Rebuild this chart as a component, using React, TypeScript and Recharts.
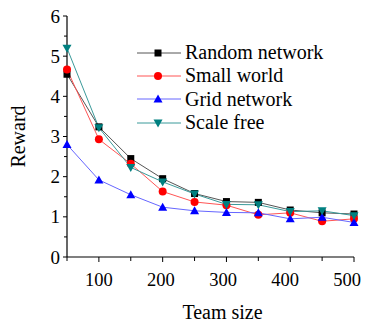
import React from 'react';
import { LineChart, Line, XAxis, YAxis, Legend } from 'recharts';

const teamSizes = [50, 100, 150, 200, 250, 300, 350, 400, 450, 500];
const randomNetwork = [4.55, 3.24, 2.45, 1.95, 1.58, 1.38, 1.36, 1.17, 1.1, 1.07];
const smallWorld = [4.67, 2.93, 2.32, 1.63, 1.37, 1.29, 1.05, 1.1, 0.89, 0.95];
const gridNetwork = [2.8, 1.92, 1.55, 1.24, 1.15, 1.11, 1.1, 0.95, 0.99, 0.86];
const scaleFree = [5.2, 3.22, 2.23, 1.87, 1.57, 1.31, 1.3, 1.13, 1.15, 1.03];

const xTicks = [50, 100, 150, 200, 250, 300, 350, 400, 450, 500];
const xLabelTicks = [100, 200, 300, 400, 500];
const yTicks = [0, 0.5, 1, 1.5, 2, 2.5, 3, 3.5, 4, 4.5, 5, 5.5, 6];
const yLabelTicks = [0, 1, 2, 3, 4, 5, 6];

const data = teamSizes.map((x, i) => ({
  x,
  random: randomNetwork[i],
  small: smallWorld[i],
  grid: gridNetwork[i],
  scale: scaleFree[i],
}));

const FONT = "'Liberation Serif', 'Times New Roman', serif";

type Shape = 'square' | 'circle' | 'up' | 'down';

const series: { key: string; name: string; line: string; fill: string; shape: Shape }[] = [
  { key: 'random', name: 'Random network', line: '#555555', fill: '#000000', shape: 'square' },
  { key: 'small', name: 'Small world', line: '#ff5555', fill: '#ff0000', shape: 'circle' },
  { key: 'grid', name: 'Grid network', line: '#6666ff', fill: '#0000ff', shape: 'up' },
  { key: 'scale', name: 'Scale free', line: '#3a9a9a', fill: '#008080', shape: 'down' },
];

function markerEl(shape: Shape, cx: number, cy: number, fill: string, key?: string) {
  if (shape === 'square') {
    return <rect key={key} x={cx - 3.5} y={cy - 3.5} width={7} height={7} fill={fill} />;
  }
  if (shape === 'circle') {
    return <circle key={key} cx={cx} cy={cy} r={4} fill={fill} />;
  }
  if (shape === 'up') {
    return (
      <polygon
        key={key}
        points={`${cx},${cy - 4.5} ${cx - 4.5},${cy + 3.5} ${cx + 4.5},${cy + 3.5}`}
        fill={fill}
      />
    );
  }
  return (
    <polygon
      key={key}
      points={`${cx - 4.5},${cy - 3.5} ${cx + 4.5},${cy - 3.5} ${cx},${cy + 4.5}`}
      fill={fill}
    />
  );
}

const XTick = (props: any) => {
  const { x, y, payload, index } = props;
  const v = payload.value;
  const major = xLabelTicks.includes(v);
  const labelIdx = xLabelTicks.indexOf(v);
  const shift = labelIdx >= 0 ? -1.7 * labelIdx : 0;
  return (
    <g key={index}>
      <line x1={x} y1={y} x2={x} y2={y + (major ? 5 : 4)} stroke="#000" strokeWidth={1} />
      {major && (
        <text x={x + shift} y={y + 29} textAnchor="middle" style={{ fontFamily: FONT }} fontSize={18.5} fill="#000">
          {v}
        </text>
      )}
    </g>
  );
};

const YTick = (props: any) => {
  const { x, y, payload } = props;
  const v = payload.value;
  const major = yLabelTicks.includes(v);
  return (
    <g>
      <line x1={x} y1={y} x2={x - (major ? 4 : 3)} y2={y} stroke="#000" strokeWidth={1} />
      {major && (
        <text x={x - 7} y={y + 6.5} textAnchor="end" style={{ fontFamily: FONT }} fontSize={19} fill="#000">
          {v}
        </text>
      )}
    </g>
  );
};

const renderLegend = () => (
  <div style={{ fontFamily: FONT, fontSize: 20, color: '#000', lineHeight: '23.3px' }}>
    {series.map((s) => (
      <div key={s.key} style={{ display: 'flex', alignItems: 'center', height: 23.3 }}>
        <svg width={46} height={14} style={{ display: 'block' }}>
          <line x1={0} y1={7} x2={44} y2={7} stroke={s.line} strokeWidth={1} />
          {markerEl(s.shape, 21, 7, s.fill)}
        </svg>
        <span style={{ marginLeft: 2, whiteSpace: 'nowrap' }}>{s.name}</span>
      </div>
    ))}
  </div>
);

const XLabel = (props: any) => {
  const { viewBox } = props;
  const cx = viewBox.x + viewBox.width / 2 + 12;
  return (
    <text x={cx} y={viewBox.y + 62} textAnchor="middle" style={{ fontFamily: FONT }} fontSize={20} fill="#000">
      Team size
    </text>
  );
};

const YLabel = (props: any) => {
  const { viewBox } = props;
  const cx = viewBox.x + 18;
  const cy = viewBox.y + viewBox.height / 2;
  return (
    <text
      x={cx}
      y={cy}
      transform={`rotate(-90 ${cx} ${cy})`}
      textAnchor="middle"
      dominantBaseline="central"
      style={{ fontFamily: FONT }}
      fontSize={20}
      fill="#000"
    >
      Reward
    </text>
  );
};

export default function App() {
  return (
    <div
      style={{
        position: 'absolute',
        left: 0,
        top: 0,
        width: 365,
        height: 327,
        background: '#fff',
        fontFamily: FONT,
      }}
    >
      <LineChart
        width={365}
        height={327}
        data={data}
        margin={{ top: 16, right: 11, bottom: 0, left: 0 }}
        style={{ fontFamily: FONT }}
      >
        <XAxis
          dataKey="x"
          type="number"
          domain={[50, 500]}
          ticks={xTicks}
          interval={0}
          height={70}
          tickSize={0}
          tickMargin={0}
          tick={<XTick />}
          axisLine={{ stroke: '#000', strokeWidth: 1.2 }}
          tickLine={false}
          label={<XLabel />}
        />
        <YAxis
          type="number"
          domain={[0, 6]}
          ticks={yTicks}
          interval={0}
          width={67}
          tickSize={0}
          tickMargin={0}
          tick={<YTick />}
          axisLine={{ stroke: '#000', strokeWidth: 1.2 }}
          tickLine={false}
          label={<YLabel />}
        />
        <Legend
          layout="vertical"
          align="center"
          verticalAlign="middle"
          content={renderLegend}
          wrapperStyle={{ left: 137, top: 41, width: 220, height: 94 }}
        />
        {series.map((s) => (
          <Line
            key={s.key}
            dataKey={s.key}
            name={s.name}
            type="linear"
            stroke={s.line}
            strokeWidth={1}
            isAnimationActive={false}
            dot={(p: any) => markerEl(s.shape, p.cx, p.cy, s.fill, `${s.key}-${p.index}`)}
            activeDot={false}
          />
        ))}
      </LineChart>
    </div>
  );
}
